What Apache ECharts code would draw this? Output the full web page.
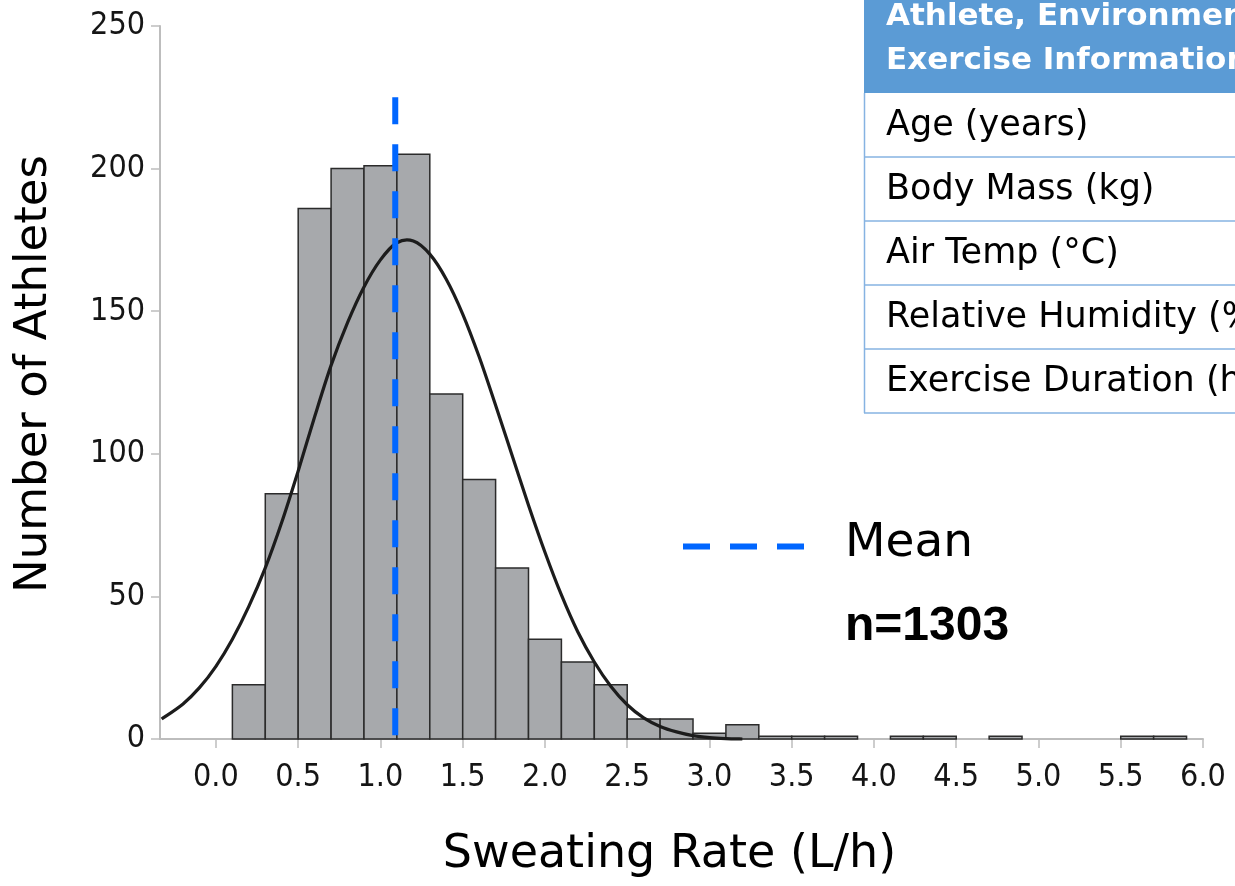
<!DOCTYPE html>
<html>
<head>
<meta charset="utf-8">
<script src="https://cdn.jsdelivr.net/npm/echarts@6/dist/echarts.min.js"></script>
<style>
html,body{margin:0;padding:0;background:#fff;}
#chart{width:1235px;height:886px;}
</style>
</head>
<body>
<div id="chart"></div>
<script>
// ---- data ----
var binWidth = 0.2;
var binStarts = [0.1,0.3,0.5,0.7,0.9,1.1,1.3,1.5,1.7,1.9,2.1,2.3,2.5,2.7,2.9,3.1,3.3,3.5,3.7,3.9,4.1,4.3,4.5,4.7,4.9,5.1,5.3,5.5,5.7];
var counts    = [19, 86, 186, 200, 201, 205, 121, 91, 60, 35, 27, 19, 7, 7, 2, 5, 1, 1, 1, 0, 1, 1, 0, 1, 0, 0, 0, 1, 1];

var curveX = [-0.33,-0.2,-0.1,0.0,0.1,0.2,0.3,0.4,0.5,0.6,0.7,0.8,0.9,1.0,1.1,1.2,1.3,1.4,1.5,1.6,1.7,1.8,1.9,2.0,2.1,2.2,2.3,2.4,2.5,2.6,2.7,2.8,2.9,3.0,3.1,3.2];
var curveY = [7,12.3,18,25.5,35,46.5,60,76,94,113,131,146,158.5,168,174,174.6,170,161.2,149,134,117,99.5,82,65.5,50.5,37.5,27,18.5,12,7.4,4.4,2.5,1.2,0.5,0.15,0];

var meanValue = 1.09;
var meanTop = 225;

var xTickValues = [0.0,0.5,1.0,1.5,2.0,2.5,3.0,3.5,4.0,4.5,5.0,5.5,6.0];
var tableHeader = ['Athlete, Environmental, and', 'Exercise Information'];
var tableRows = ['Age (years)', 'Body Mass (kg)', 'Air Temp (°C)', 'Relative Humidity (%)', 'Exercise Duration (h)'];
var sampleLabel = 'n=1303';
var legendLabel = 'Mean';
var xTitle = 'Sweating Rate (L/h)';
var yTitle = 'Number of Athletes';

// ---- build series data ----
var barData = [];
for (var i = 0; i < binStarts.length; i++) {
  if (counts[i] > 0) barData.push([binStarts[i], binStarts[i] + binWidth, counts[i]]);
}

var tickFont = "'DejaVu Sans Condensed','Liberation Sans Narrow',sans-serif";
var mainFont = "'DejaVu Sans',sans-serif";

var graphics = [];
// table header
graphics.push({type:'rect', shape:{x:864, y:0, width:380, height:93}, style:{fill:'#5b9bd5'}, z:10});
graphics.push({type:'text', x:886, y:17, style:{text:tableHeader[0], fontSize:31, fontWeight:'bold', fontFamily:mainFont, fill:'#ffffff', textAlign:'left', textVerticalAlign:'middle'}, z:11});
graphics.push({type:'text', x:886, y:61, style:{text:tableHeader[1], fontSize:31, fontWeight:'bold', fontFamily:mainFont, fill:'#ffffff', textAlign:'left', textVerticalAlign:'middle'}, z:11});
// table rows
var rowTop = 93, rowH = 64;
graphics.push({type:'line', shape:{x1:864.5, y1:rowTop, x2:864.5, y2:rowTop + rowH * tableRows.length}, style:{stroke:'#86b3e2', lineWidth:1.5}, z:10});
for (var r = 0; r < tableRows.length; r++) {
  var yb = rowTop + rowH * (r + 1);
  graphics.push({type:'line', shape:{x1:864, y1:yb, x2:1240, y2:yb}, style:{stroke:'#86b3e2', lineWidth:1.5}, z:10});
  graphics.push({type:'text', x:886, y:rowTop + rowH * r + 32.5, style:{text:tableRows[r], fontSize:35, fontFamily:mainFont, fill:'#000000', textAlign:'left', textVerticalAlign:'middle'}, z:11});
}
// legend
graphics.push({type:'line', shape:{x1:683, y1:546.5, x2:805, y2:546.5}, style:{stroke:'#0066ff', lineWidth:6, lineDash:[27,20]}, z:10});
graphics.push({type:'text', x:845, y:543.5, style:{text:legendLabel, fontSize:47, fontFamily:mainFont, fill:'#000000', textAlign:'left', textVerticalAlign:'middle'}, z:10});
graphics.push({type:'text', x:845, y:626.5, style:{text:sampleLabel, fontSize:48, fontWeight:'bold', fontFamily:"'Liberation Sans',Arial,sans-serif", fill:'#000000', textAlign:'left', textVerticalAlign:'middle'}, z:10});
// axis titles
graphics.push({type:'text', x:669.5, y:855, style:{text:xTitle, fontSize:46, fontFamily:mainFont, fill:'#000000', textAlign:'center', textVerticalAlign:'middle'}, z:10});
graphics.push({type:'text', x:34, y:374, rotation:Math.PI/2, style:{text:yTitle, fontSize:45, fontFamily:mainFont, fill:'#000000', textAlign:'center', textVerticalAlign:'middle'}, z:10});

// smooth curve through the read points, positioned by the axes' own scales
function curveRenderItem(params, api) {
  var pts = curveX.map(function (x, k) { return api.coord([x, curveY[k]]); });
  var d = 'M' + pts[0][0] + ' ' + pts[0][1];
  for (var k = 0; k < pts.length - 1; k++) {
    var p0 = pts[k - 1] || pts[k], p1 = pts[k], p2 = pts[k + 1], p3 = pts[k + 2] || pts[k + 1];
    var c1x = p1[0] + (p2[0] - p0[0]) / 6, c1y = p1[1] + (p2[1] - p0[1]) / 6;
    var c2x = p2[0] - (p3[0] - p1[0]) / 6, c2y = p2[1] - (p3[1] - p1[1]) / 6;
    d += ' C' + c1x + ' ' + c1y + ' ' + c2x + ' ' + c2y + ' ' + p2[0] + ' ' + p2[1];
  }
  return {type:'path', shape:{pathData:d}, style:{fill:'none', stroke:'#1c1c1c', lineWidth:3.2}};
}

var chart = echarts.init(document.getElementById('chart'), null, {renderer:'canvas'});
chart.setOption({
  animation: false,
  backgroundColor: '#ffffff',
  grid: {left:160, right:32, top:26, bottom:147, containLabel:false},
  xAxis: {
    type:'value', min:-0.34, max:6.0,
    splitLine:{show:false},
    axisLine:{show:true, onZero:false, lineStyle:{color:'#bdbdbd', width:2}},
    axisTick:{show:true, inside:false, length:9, customValues:xTickValues, lineStyle:{color:'#bdbdbd', width:1.5}},
    axisLabel:{show:true, customValues:xTickValues, margin:23, fontSize:32, fontFamily:tickFont, color:'#151515',
      formatter:function(v){ return v.toFixed(1); }}
  },
  yAxis: {
    type:'value', min:0, max:250, interval:50,
    splitLine:{show:false},
    axisLine:{show:true, onZero:false, lineStyle:{color:'#bdbdbd', width:2}},
    axisTick:{show:true, inside:false, length:9, lineStyle:{color:'#bdbdbd', width:1.5}},
    axisLabel:{show:true, margin:15, fontSize:32, fontFamily:tickFont, color:'#151515'}
  },
  series: [
    {
      type:'custom', name:'Athletes', z:2,
      encode:{x:[0,1], y:2},
      data: barData,
      renderItem: function (params, api) {
        var p0 = api.coord([api.value(0), api.value(2)]);
        var p1 = api.coord([api.value(1), 0]);
        return {type:'rect', shape:{x:p0[0], y:p0[1], width:p1[0]-p0[0], height:p1[1]-p0[1]},
          style:{fill:'#a7a9ac', stroke:'#2b2b2b', lineWidth:1.5}};
      }
    },
    {
      type:'custom', name:'Normal', z:3, clip:false,
      encode:{x:0, y:1},
      data:[[curveX[0], curveY[0]]],
      renderItem: curveRenderItem
    },
    {
      type:'line', name:'Mean', z:4, data:[[meanValue, meanTop],[meanValue, 0]], showSymbol:false, symbol:'none',
      lineStyle:{color:'#0066ff', width:6, type:[27,20]}
    }
  ],
  graphic: graphics
});
</script>
</body>
</html>
